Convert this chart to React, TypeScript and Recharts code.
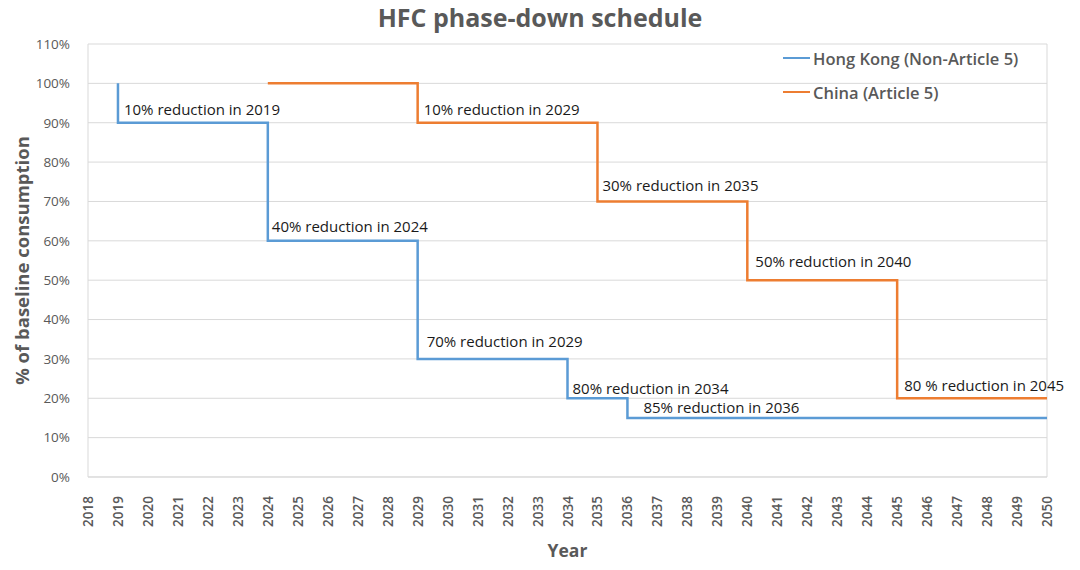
import React from 'react';
import {
  LineChart,
  Line,
  XAxis,
  YAxis,
  CartesianGrid,
  ReferenceDot,
  ReferenceLine,
} from 'recharts';

const years = Array.from({ length: 33 }, (_, i) => 2018 + i);
const percentTicks = [0, 10, 20, 30, 40, 50, 60, 70, 80, 90, 100, 110];

const hongKongYears = [2019, 2019, 2024, 2029, 2034, 2036, 2050];
const hongKongLevels = [100, 90, 60, 30, 20, 15, 15];

const chinaYears = [2024, 2029, 2035, 2040, 2045, 2050];
const chinaLevels = [100, 90, 70, 50, 20, 20];

const noteYears = [2019, 2024, 2029, 2034, 2036, 2029, 2035, 2040, 2045];
const noteLevels = [90, 60, 30, 20, 15, 90, 70, 50, 20];
const noteTexts = [
  '10% reduction in 2019',
  '40% reduction in 2024',
  '70% reduction in 2029',
  '80% reduction in 2034',
  '85% reduction in 2036',
  '10% reduction in 2029',
  '30% reduction in 2035',
  '50% reduction in 2040',
  '80 % reduction in 2045',
];

const hongKong = hongKongYears.map((year, i) => ({ year, value: hongKongLevels[i] }));
const china = chinaYears.map((year, i) => ({ year, value: chinaLevels[i] }));

const FONT = '"Open Sans", "Liberation Sans", sans-serif';
const GREY = '#595959';
const BLUE = '#5B9BD5';
const ORANGE = '#ED7D31';

// label nudges in px (dx right of the step, dy above the level), hand placed like the original
const noteNudge = [
  [6, 14],
  [4, 15],
  [9, 18],
  [5, 10],
  [16, 11],
  [6, 14],
  [5, 16],
  [8, 19],
  [7, 13],
];

const YearTick = (props: any) => {
  const { x, y, payload } = props;
  return (
    <text
      x={0}
      y={0}
      transform={`translate(${x},${y + 11}) rotate(-90)`}
      textAnchor="end"
      dominantBaseline="central"
      fontSize={13.5}
      fontWeight={600}
      fill={GREY}
      fontFamily={FONT}
    >
      {payload.value}
    </text>
  );
};

const NoteLabel = (text: string, nudge: number[]) => (props: any) => {
  const { viewBox } = props;
  return (
    <text
      x={viewBox.x + nudge[0]}
      y={viewBox.y - nudge[1]}
      fontSize={15}
      fill="#1a1a1a"
      fontFamily={FONT}
      dominantBaseline="central"
    >
      {text}
    </text>
  );
};

export default function App() {
  return (
    <div style={{ position: 'absolute', left: 0, top: 0, width: 1080, height: 570, background: '#fff', fontFamily: FONT }}>
      <div
        style={{
          position: 'absolute',
          left: 0,
          top: 0,
          width: 1080,
          textAlign: 'center',
          fontSize: 25,
          fontWeight: 700,
          color: GREY,
        }}
      >
        HFC phase-down schedule
      </div>
      <div style={{ position: 'absolute', left: 783, top: 46, fontSize: 16.5, fontWeight: 600, color: GREY }}>
        <div style={{ display: 'flex', alignItems: 'center', height: 24 }}>
          <span style={{ display: 'inline-block', width: 27, height: 2.5, background: BLUE, marginRight: 3 }} />
          Hong Kong (Non-Article 5)
        </div>
        <div style={{ display: 'flex', alignItems: 'center', height: 24, marginTop: 10 }}>
          <span style={{ display: 'inline-block', width: 27, height: 2.5, background: ORANGE, marginRight: 3 }} />
          China (Article 5)
        </div>
      </div>
      <LineChart width={1080} height={570} margin={{ top: 44, right: 33, left: 0, bottom: 0 }}>
        <CartesianGrid vertical={false} stroke="#d9d9d9" />
        <XAxis
          dataKey="year"
          type="number"
          domain={[2018, 2050]}
          ticks={years}
          interval={0}
          allowDuplicatedCategory={false}
          height={93}
          tickLine={false}
          axisLine={{ stroke: '#d9d9d9' }}
          tick={<YearTick />}
          label={{
            value: 'Year',
            position: 'insideBottom',
            offset: 13,
            fontSize: 17.5,
            fontWeight: 700,
            fill: GREY,
            fontFamily: FONT,
          }}
        />
        <YAxis
          type="number"
          domain={[0, 110]}
          ticks={percentTicks}
          interval={0}
          width={88}
          tickLine={false}
          axisLine={{ stroke: '#d9d9d9' }}
          tickMargin={12}
          tickFormatter={(v: number) => `${v}%`}
          tick={{ fontSize: 13.5, fill: GREY, fontFamily: FONT }}
          label={{
            value: '% of baseline consumption',
            angle: -90,
            position: 'insideLeft',
            offset: 22,
            style: { textAnchor: 'middle' },
            fontSize: 18.5,
            fontWeight: 700,
            fill: GREY,
            fontFamily: FONT,
          }}
        />
        <ReferenceLine x={2050} stroke="#d9d9d9" />
        <Line
          data={hongKong}
          dataKey="value"
          type="stepAfter"
          stroke={BLUE}
          strokeWidth={2.5}
          dot={false}
          isAnimationActive={false}
        />
        <Line
          data={china}
          dataKey="value"
          type="stepAfter"
          stroke={ORANGE}
          strokeWidth={2.5}
          dot={false}
          isAnimationActive={false}
        />
        {noteTexts.map((text, i) => (
          <ReferenceDot
            key={text + i}
            x={noteYears[i]}
            y={noteLevels[i]}
            r={0}
            stroke="none"
            fill="none"
            label={NoteLabel(text, noteNudge[i])}
          />
        ))}
      </LineChart>
    </div>
  );
}
